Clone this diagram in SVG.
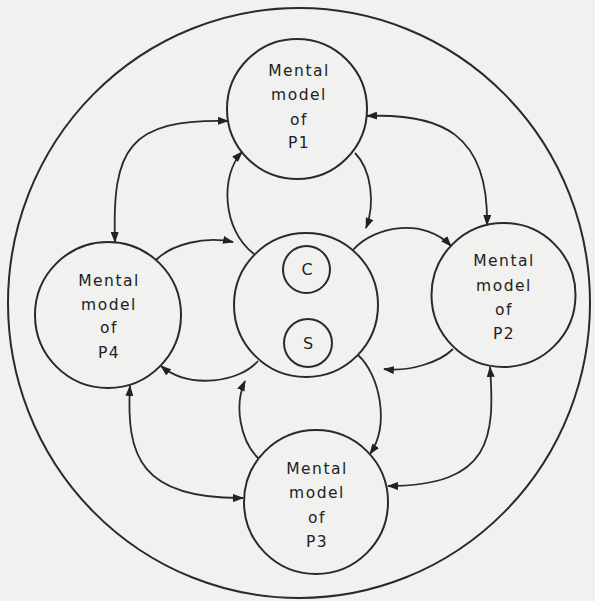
<svg xmlns="http://www.w3.org/2000/svg" width="595" height="601" viewBox="0 0 595 601">
<style>
.c{fill:none;stroke:#2a2a2a;stroke-width:2}
.a{fill:none;stroke:#2a2a2a;stroke-width:1.8}
.t{font-family:"DejaVu Sans","Liberation Sans",sans-serif;font-size:15.5px;fill:#222;text-anchor:middle;letter-spacing:1.5px}
.s{font-family:"DejaVu Sans","Liberation Sans",sans-serif;font-size:16px;fill:#222;text-anchor:middle}
</style>
<defs>
<marker id="ah" markerUnits="userSpaceOnUse" markerWidth="11" markerHeight="8" refX="10" refY="4" orient="auto-start-reverse">
<path d="M0,0 L11,4 L0,8 z" fill="#222"/>
</marker>
</defs>
<rect width="595" height="601" fill="#f1f1ef"/>
<ellipse id="outer" class="c" cx="299" cy="303" rx="291" ry="295"/>
<g id="connectors">
<path class="a" d="M228,121 C128,119 112,149 115,242" marker-start="url(#ah)" marker-end="url(#ah)"/>
<path class="a" d="M367,116 C440,113 489,133 487,225" marker-start="url(#ah)" marker-end="url(#ah)"/>
<path class="a" d="M490,367 C495,437 492,486 388,486" marker-start="url(#ah)" marker-end="url(#ah)"/>
<path class="a" d="M130,386 C126,456 140,499 243,498" marker-start="url(#ah)" marker-end="url(#ah)"/>
<path class="a" d="M254,254 C222,230 220,175 242,152" marker-end="url(#ah)"/>
<path class="a" d="M355,153 C372,170 375,205 366,228" marker-end="url(#ah)"/>
<path class="a" d="M353,250 C375,225 425,218 451,246" marker-end="url(#ah)"/>
<path class="a" d="M453,349 C440,362 410,372 384,369" marker-end="url(#ah)"/>
<path class="a" d="M358,355 C380,375 390,425 370,454" marker-end="url(#ah)"/>
<path class="a" d="M258,458 C240,440 234,405 245,381" marker-end="url(#ah)"/>
<path class="a" d="M258,361 C240,382 190,390 161,366" marker-end="url(#ah)"/>
<path class="a" d="M156,260 C172,244 205,236 233,242" marker-end="url(#ah)"/>
</g>
<g id="p1">
<circle class="c" cx="297" cy="109" r="70"/>
<text class="t" x="299" y="76">Mental</text>
<text class="t" x="299" y="100">model</text>
<text class="t" x="299" y="125">of</text>
<text class="t" x="299" y="148">P1</text>
</g>
<g id="p2">
<circle class="c" cx="503.5" cy="295" r="72"/>
<text class="t" x="504" y="266">Mental</text>
<text class="t" x="504" y="291">model</text>
<text class="t" x="504" y="315">of</text>
<text class="t" x="504" y="339">P2</text>
</g>
<g id="p3">
<circle class="c" cx="316" cy="502" r="72"/>
<text class="t" x="317" y="474">Mental</text>
<text class="t" x="317" y="498">model</text>
<text class="t" x="317" y="523">of</text>
<text class="t" x="317" y="547">P3</text>
</g>
<g id="p4">
<circle class="c" cx="108" cy="315" r="73"/>
<text class="t" x="109" y="286">Mental</text>
<text class="t" x="109" y="310">model</text>
<text class="t" x="109" y="333">of</text>
<text class="t" x="109" y="358">P4</text>
</g>
<g id="center">
<circle class="c" cx="306" cy="305" r="72"/>
</g>
<g id="c">
<circle class="c" cx="306.5" cy="269.5" r="23.5"/>
<text class="s" x="307" y="275">C</text>
</g>
<g id="s">
<circle class="c" cx="308" cy="343" r="24"/>
<text class="s" x="308" y="349">S</text>
</g>
</svg>
